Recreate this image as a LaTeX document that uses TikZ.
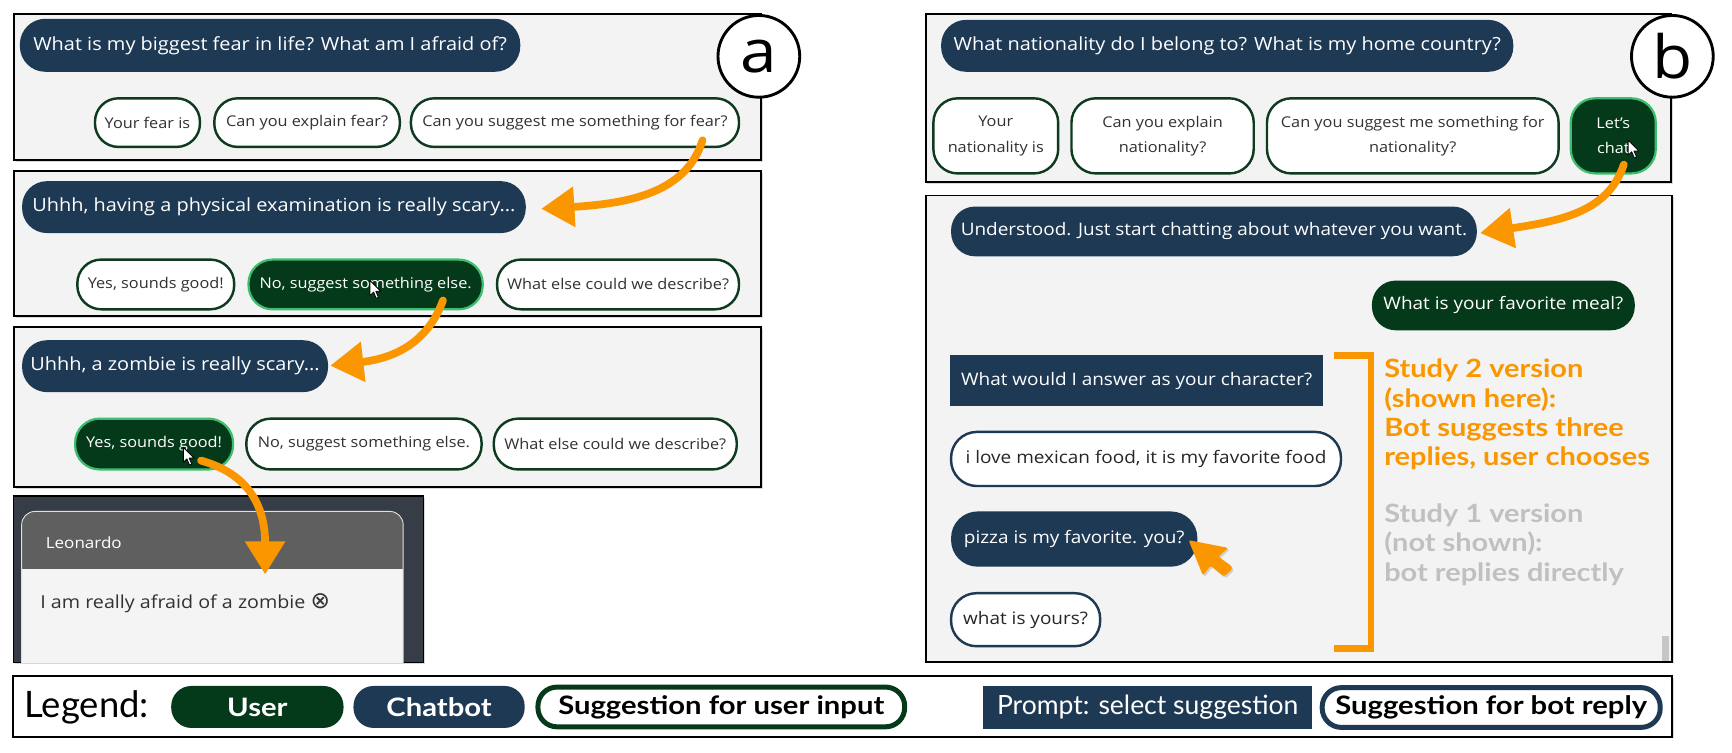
\documentclass[tikz,border=0pt]{standalone}
\usepackage{fontspec}
\setmainfont{Open Sans}[FakeStretch=1.1]
\newfontfamily\lato{Lato}
\newfontfamily\latow{Lato}[FakeStretch=1.15]
\newfontfamily\dejavu{DejaVu Sans}
\usetikzlibrary{arrows.meta,shadows,calc}
\definecolor{navy}{RGB}{30,57,84}
\definecolor{dgreen}{RGB}{4,58,26}
\definecolor{sgreen}{RGB}{14,58,32}
\definecolor{glow}{RGB}{60,190,110}
\definecolor{panelbg}{RGB}{243,243,243}
\definecolor{orng}{RGB}{250,150,0}
\definecolor{lgraytxt}{RGB}{192,192,192}
\definecolor{txtgray}{RGB}{50,50,50}
\definecolor{scrdark}{RGB}{55,61,70}
\definecolor{hdrgray}{RGB}{95,95,95}
\definecolor{bodygray}{RGB}{244,244,244}
\newcommand\bubfont{\fontsize{16.4}{19}\selectfont}
\newcommand\bubfontb{\fontsize{15.6}{19}\selectfont}
\newcommand\btnfont{\fontsize{13.4}{23}\selectfont}
\newcommand\legbold{\latow\bfseries\fontsize{23}{24}\selectfont}
\tikzset{
  sz/.style 2 args={minimum width=#1pt, minimum height=#2pt, inner sep=0pt, outer sep=0pt},
  pill/.style 2 args={sz={#1}{#2}, rounded corners=#2*0.48pt},
  panel/.style={draw=black, line width=1.7pt, fill=panelbg, drop shadow={shadow xshift=1.5pt, shadow yshift=-1.5pt, opacity=0.3}},
  bot/.style={fill=navy, text=white, font=\bubfont},
  botb/.style={fill=navy, text=white, font=\bubfontb},
  usr/.style={fill=dgreen, text=white, font=\bubfontb},
  sug/.style={fill=white, draw=sgreen, line width=2.2pt, text=txtgray, font=\btnfont, align=center},
  sel/.style={fill=dgreen, draw=glow, line width=2pt, text=white, font=\btnfont, align=center},
  bsug/.style={fill=white, draw=navy, line width=2.2pt, text=black!85, font=\bubfontb},
  oarrow/.style={draw=orng, line width=7pt, line cap=round, -{Triangle[width=35pt,length=30pt]}},
  lbl/.style={circle, draw=black, line width=2.6pt, fill=white, minimum size=74pt, inner sep=0pt, font=\fontsize{54}{60}\selectfont},
  anno/.style={anchor=north west, inner sep=0pt, align=left, font=\latow\bfseries\fontsize{22.8}{26.5}\selectfont},
  cursor/.pic={\draw[fill=white, line width=0.7pt, line join=round] (0,0) -- (0,17) -- (4,13) -- (7,20) -- (9.5,19) -- (6.5,12) -- (12,12) -- cycle;}
}
\begin{document}
\begin{tikzpicture}[x=1pt,y=-1pt]
\useasboundingbox (0,0) rectangle (1568,681);
\fill[white] (0,0) rectangle (1568,681);

% ---------- panels ----------
\node[panel, sz={676}{132}] (pa1) at (351,79) {};
\node[panel, sz={676}{131}] (pa2) at (351,220.5) {};
\node[panel, sz={676}{145}] (pa3) at (351,368.5) {};
\node[panel, sz={675}{152}] (pb1) at (1175.5,89) {};
\node[panel, sz={676}{422}] (pb2) at (1176,388) {};
\node[panel, fill=white, sz={1502}{55}] (leg) at (763,639.5) {};

% ---------- panel a ----------
\node[bot, pill={453}{48}] (q1) at (244.5,41) {What is my biggest fear in life? What am I afraid of?};
\node[sug, pill={95}{44}] (s11) at (133.5,111) {Your fear is};
\node[sug, pill={168}{44}] (s12) at (278,111) {Can you explain fear?};
\node[sug, pill={297}{44}] (s13) at (520.5,111) {Can you suggest me something for fear?};

\node[bot, pill={456}{47}] (q2) at (248,187.5) {Uhhh, having a physical examination is really scary...};
\node[sug, pill={142}{45}] (s21) at (141,257.5) {Yes, sounds good!};
\node[sel, pill={212}{45}] (s22) at (331,257.5) {No, suggest something else.};
\node[sug, pill={219}{45}] (s23) at (559.5,257.5) {What else could we describe?};

\node[bot, pill={277}{47}] (q3) at (158.5,331.5) {Uhhh, a zombie is really scary...};
\node[sel, pill={143}{46}] (s31) at (139.5,402) {Yes, sounds good!};
\node[sug, pill={213}{46}] (s32) at (329.5,402) {No, suggest something else.};
\node[sug, pill={220}{46}] (s33) at (557,402) {What else could we describe?};

% Leonardo screen
\node[fill=scrdark, draw=black, line width=1pt, sz={371}{151}, drop shadow={shadow xshift=1.5pt, shadow yshift=-1.5pt, opacity=0.3}] (scr) at (197.5,524.5) {};
\begin{scope}
\clip (12.5,449.5) rectangle (382.5,599.5);
\fill[hdrgray, rounded corners=12pt] (19.6,463) rectangle (365,540);
\fill[bodygray] (19.6,515) rectangle (365,600);
\draw[white!75!gray, line width=0.8pt, rounded corners=12pt] (19.6,463) rectangle (365,660);
\end{scope}
\node[anchor=west, text=white, font=\fontsize{14}{19}\selectfont] (leo) at (38,491) {Leonardo};
\node[anchor=west, text=txtgray, font=\fontsize{16.2}{19}\selectfont] (typed) at (33,546) {I am really afraid of a zombie {\dejavu\fontsize{21}{21}\selectfont ⊗}};

\node[lbl] (la) at (687,51) {a};

% ---------- panel b ----------
\node[bot, pill={518}{47}] (qb) at (1111,41.5) {What nationality do I belong to? What is my home country?};
\node[sug, sz={113}{68}, rounded corners=22pt] (sb1) at (901.5,123) {Your\\nationality is};
\node[sug, sz={165}{68}, rounded corners=22pt] (sb2) at (1052.5,123) {Can you explain\\nationality?};
\node[sug, sz={264}{68}, rounded corners=22pt] (sb3) at (1279,123) {Can you suggest me something for\\nationality?};
\node[sel, sz={77}{68}, rounded corners=22pt] (sb4) at (1460.5,123) {Let's\\chat};

\node[botb, pill={476}{45}] (rb1) at (1099,209.5) {Understood. Just start chatting about whatever you want.};
\node[usr, pill={238}{45}] (ub) at (1361,276.5) {What is your favorite meal?};
\node[botb, sz={338}{47}] (pr) at (1029,344.5) {What would I answer as your character?};
\node[bsug, pill={353}{49}] (r1) at (1037.5,415.5) {i love mexican food, it is my favorite food};
\node[botb, pill={223}{50}] (r2) at (972.5,488) {pizza is my favorite. you?};
\node[bsug, pill={135}{48}] (r3) at (928.5,561) {what is yours?};
\fill[gray!45] (1505,576) rectangle (1511,598);

\node[lbl] (lb) at (1514,51) {b};

% bracket and annotations
\draw[orng, line width=6pt] (1208,322) -- (1241,322) -- (1241,587) -- (1208,587);
\node[anno, text=orng] (st2) at (1253,325) {Study 2 version\\(shown here):\\Bot suggests three\\replies, user chooses};
\node[anno, text=lgraytxt] (st1) at (1253,456) {Study 1 version\\(not shown):\\bot replies directly};

% orange pointer
\fill[orng, line join=round, rounded corners=2pt, drop shadow={shadow xshift=1.5pt, shadow yshift=-1.5pt, opacity=0.3}] (1076,489) -- (1089,521) -- (1096,512) -- (1108,522) [rounded corners=4pt] -- (1117,514) [rounded corners=2pt] -- (1103,504) -- (1112,496) -- cycle;

% white mouse cursors
\pic[scale=0.8] at (335,254) {cursor};
\pic[scale=0.8] at (166,405) {cursor};
\pic[scale=0.8] at (1474,127) {cursor};

% ---------- orange connectors ----------
\coordinate (a1s) at (636,127);
\coordinate (a1e) at (490,189);
\draw[oarrow] (a1s) .. controls (622,172) and (575,184) .. (a1e);
\coordinate (a2s) at (401,272);
\coordinate (a2e) at (299,331);
\draw[oarrow] (a2s) .. controls (388,308) and (360,324) .. (a2e);
\coordinate (a3s) at (182,417);
\coordinate (a3e) at (240,520);
\draw[oarrow] (a3s) .. controls (222,428) and (240,455) .. (a3e);
\coordinate (a4s) at (1470,149);
\coordinate (a4e) at (1340,211);
\draw[oarrow] (a4s) .. controls (1456,192) and (1412,200) .. (a4e);

% ---------- legend ----------
\node[anchor=west, inner sep=0pt, font=\lato\fontsize{33}{36}\selectfont] (legt) at (22,640) {Legend:};
\node[usr, pill={156}{38}, font=\legbold] (lu) at (233,640) {User};
\node[bot, pill={155}{38}, font=\legbold] (lc) at (397.5,640) {Chatbot};
\node[fill=white, draw=dgreen, line width=4.5pt, pill={332}{36}, font=\legbold] (ls) at (653,640) {Suggestion for user input};
\node[bot, sz={298}{39}, font=\lato\fontsize{24}{26}\selectfont] (lp) at (1039,640.5) {Prompt: select suggestion};
\node[fill=white, draw=navy, line width=4.5pt, pill={306}{36}, font=\legbold] (lbr) at (1350,640.5) {Suggestion for bot reply};
\end{tikzpicture}
\end{document}
